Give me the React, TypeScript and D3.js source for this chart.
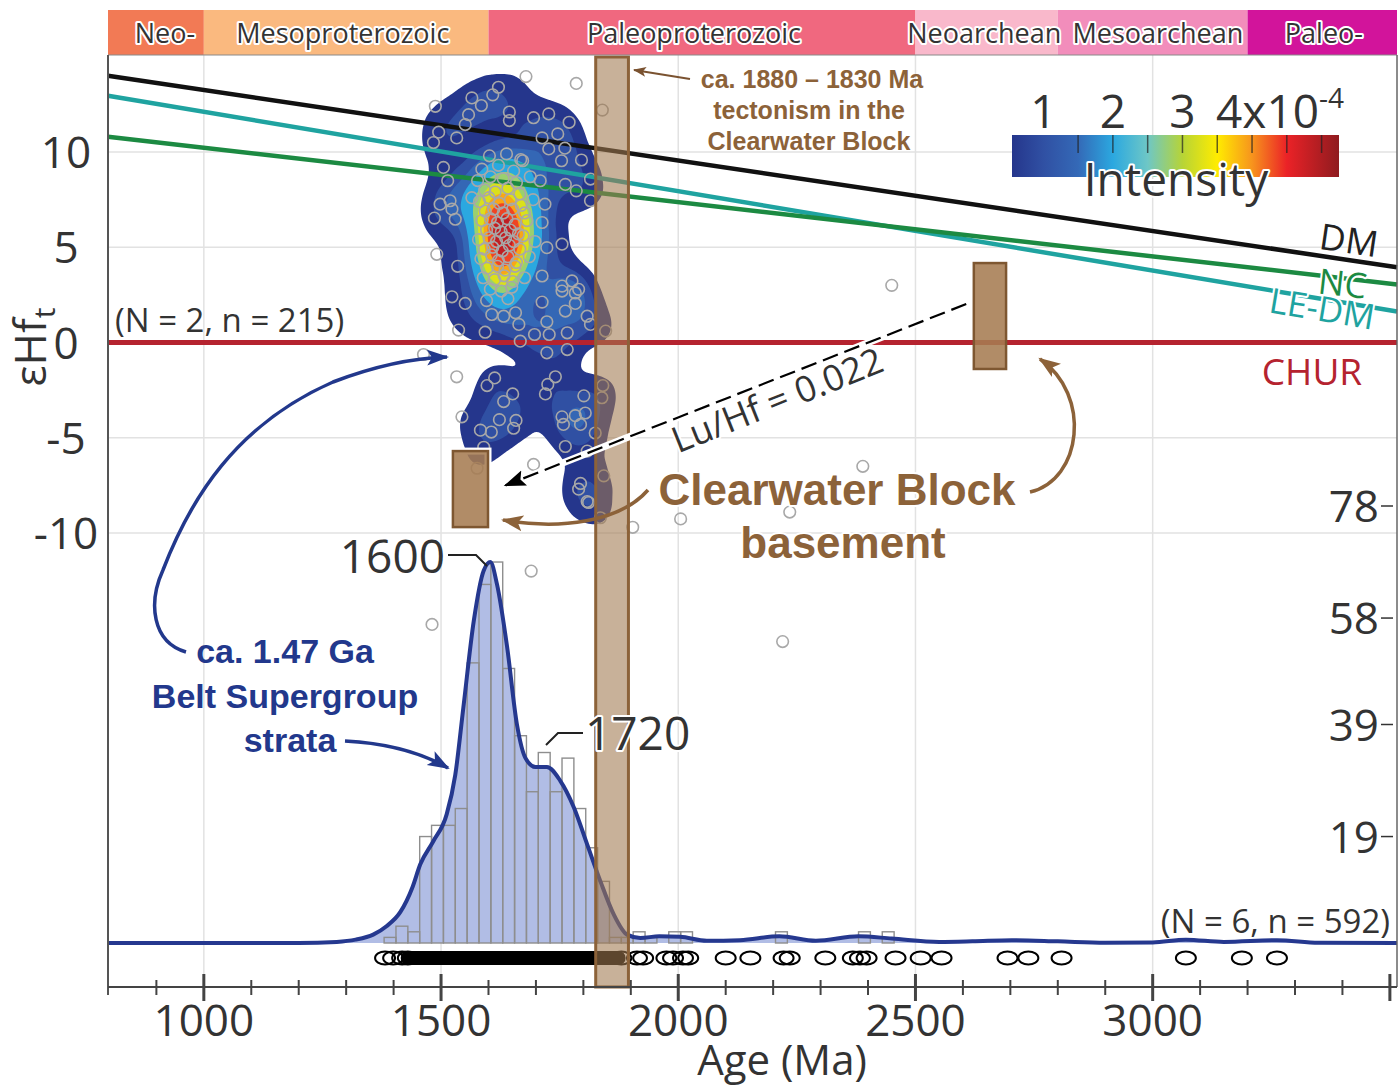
import React, { useMemo } from "react";
import * as d3 from "d3";

const W = 1400;
const H = 1089;

// geologic time scale, Ma
const eraNames = ["Neo-", "Mesoproterozoic", "Paleoproterozoic", "Neoarchean", "Mesoarchean", "Paleo-"];
const eraStart = [798, 1000, 1600, 2500, 2800, 3200];
const eraEnd = [1000, 1600, 2500, 2800, 3200, 3515];
const eraLabelAge = [918, 1293, 2033, 2645, 3011, 3361];
const eraColors = ["#F27A55", "#FAB97F", "#F0687F", "#F9B8CB", "#F28DBB", "#D2149B"];

const ageTicks = [1000, 1500, 2000, 2500, 3000];
const hfTicks = [10, 5, 0, -5, -10];
const countTicks = [19, 39, 58, 78];

// Hf evolution reference lines: [age, eHf]
const dmLine = [[798, 14.0], [3515, 3.95]];
const leDmLine = [[798, 12.95], [3515, 1.63]];
const ncLine = [[798, 10.8], [3515, 3.05]];
const churLine = [[798, 0], [3515, 0]];

// zircon Hf data (age Ma, eHf(t)) inside the density cloud
const hfCloud: number[][] = [
  // core
  [1602, 9.8], [1638, 9.9], [1668, 9.6], [1586, 9.1], [1621, 9.3], [1653, 9.0],
  [1577, 8.5], [1604, 8.7], [1631, 8.6], [1659, 8.4], [1688, 8.7],
  [1592, 8.0], [1614, 7.9], [1641, 8.1], [1666, 7.8],
  [1581, 7.4], [1601, 7.6], [1623, 7.3], [1646, 7.5], [1669, 7.2], [1694, 7.5],
  [1593, 6.9], [1611, 7.0], [1631, 6.8], [1651, 7.0], [1676, 6.8],
  [1586, 6.4], [1604, 6.5], [1619, 6.3], [1639, 6.5], [1656, 6.2], [1681, 6.4],
  [1596, 5.9], [1613, 6.0], [1627, 5.8], [1646, 5.9], [1663, 5.7],
  [1579, 5.4], [1601, 5.5], [1617, 5.3], [1636, 5.5], [1653, 5.3], [1673, 5.6], [1698, 5.3],
  [1591, 4.9], [1609, 5.0], [1629, 4.8], [1644, 5.1], [1666, 4.9],
  [1584, 4.4], [1606, 4.6], [1621, 4.3], [1641, 4.5], [1659, 4.2], [1686, 4.5],
  [1597, 3.9], [1619, 4.0], [1635, 3.8], [1656, 4.0],
  [1589, 3.4], [1613, 3.3], [1633, 3.5], [1651, 3.2], [1676, 3.4],
  [1604, 2.8], [1627, 2.7], [1649, 2.9], [1596, 2.2], [1641, 2.3],
  [1565, 7.6], [1719, 7.26],
  // upper ring
  [1679, 13.96], [1621, 13.4], [1609, 13.0], [1565, 12.84], [1585, 12.44], [1488, 12.4],
  [1644, 12.1], [1558, 11.96], [1727, 12.0], [1695, 11.8], [1770, 11.56], [1644, 11.65],
  [1551, 11.44], [1495, 11.04], [1746, 10.95], [1533, 10.74], [1484, 10.5], [1713, 10.74],
  [1727, 10.16], [1761, 10.2], [1796, 9.58], [1754, 9.54], [1505, 9.19], [1672, 9.54],
  [1514, 8.49], [1709, 8.49], [1762, 8.3], [1815, 8.58], [1785, 7.96], [1815, 7.44],
  [1498, 7.26], [1519, 7.44], [1523, 7.0], [1486, 6.53], [1530, 6.47], [1713, 6.3],
  [1755, 5.16], [1723, 4.98], [1491, 4.63], [1535, 4.0], [1713, 3.49], [1755, 2.96],
  [1776, 3.23], [1790, 2.79],
  // lower lobes
  [1523, 2.4], [1551, 2.05], [1713, 2.12], [1755, 2.7], [1783, 2.6], [1783, 2.05],
  [1762, 1.65], [1808, 1.38], [1815, 0.95], [1847, 0.6], [1657, 1.56], [1664, 0.95],
  [1607, 1.47], [1632, 1.38], [1593, 0.54], [1537, 0.65], [1723, 1.09], [1697, 0.42],
  [1728, 0.42], [1766, 0.51], [1667, 0.07], [1723, -0.54], [1766, -0.37], [1613, -1.86],
  [1597, -2.26], [1741, -1.8], [1725, -2.2], [1720, -2.7], [1651, -2.7], [1632, -3.1],
  [1801, -2.8], [1841, -2.26], [1839, -2.9], [1544, -3.9], [1623, -4.05], [1658, -4.09],
  [1653, -4.5], [1583, -4.6], [1606, -4.7], [1755, -3.9], [1783, -3.84], [1804, -3.7],
  [1758, -4.3], [1794, -4.3], [1825, -4.75], [1762, -5.46], [1808, -5.7], [1843, -7.0],
  [1790, -7.7], [1808, -8.35], [1590, -5.5], [1576, -6.6], [1794, -7.4], [1811, -8.4],
  [1836, -9.2],
];

// scattered analyses outside the cloud
const hfScatter: number[][] = [
  [1785, 13.6], [1840, 12.2], [1463, -0.63], [1533, -1.8], [1695, -6.4], [2450, 3.0],
  [2389, -6.5], [1904, -9.7], [2005, -9.26], [2235, -8.9], [1690, -12.0], [1481, -14.8],
  [2220, -15.7],
];

// detrital zircon U-Pb histogram (25 Ma bins)
const binWidth = 25;
const binStart = [
  1380, 1405, 1430, 1455, 1480, 1505, 1530, 1555, 1580, 1605, 1630, 1655, 1680, 1705,
  1730, 1755, 1780, 1805, 1830, 1855, 1880, 1905, 1930, 1980, 2005, 2205, 2380, 2430,
];
const binCount = [
  1, 3, 2, 19, 21, 21, 24, 50, 64, 68, 49, 37, 27, 34,
  27, 33, 24, 17, 11, 1, 1, 2, 1, 2, 2, 2, 2, 2,
];

// KDE curve
const kdeAge = [
  798, 1200, 1280, 1320, 1357, 1385, 1414, 1440, 1456, 1484, 1512, 1530, 1547, 1569,
  1590, 1604, 1618, 1639, 1660, 1678, 1699, 1723, 1751, 1780, 1808, 1836, 1864, 1892,
  1920, 1960, 2004, 2060, 2130, 2213, 2290, 2380, 2450, 2550, 2620, 2703, 2800, 2900,
  3000, 3070, 3150, 3262, 3350, 3515,
];
const kdeValue = [
  0, 0, 0.2, 0.6, 1.5, 3.0, 5.5, 10, 14, 18.2, 23, 30, 42, 57.5,
  66.5, 68, 64, 53, 39, 33, 31.4, 31.4, 29, 24.2, 17.6, 11, 5.1, 1.5,
  0.9, 1.2, 1.1, 0.4, 0.5, 1.2, 0.4, 1.2, 0.8, 0.2, 0.3, 0.5, 0.3, 0.05,
  0.1, 0.6, 0.2, 0.5, 0.05, 0,
];

// individual grain ages shown as ellipses, plus the span where they merge
const grainAges = [
  1382, 1399, 1418, 1430, 1880, 1913, 1926, 1975, 1989, 2010, 2021, 2100, 2152, 2222,
  2235, 2310, 2368, 2383, 2397, 2458, 2511, 2555, 2694, 2738, 2808, 3070, 3188, 3262,
];
const denseAgeSpan = [1436, 1868];

// density intensity (x10^-4)
const intensityLevels = [0.5, 1.0, 1.45, 2.0, 2.8, 3.25, 3.9, 4.35, 4.85];
const intensityPeak = 5.25;
const jetStops = [0.55, 1.0, 1.5, 2.0, 2.5, 3.0, 3.5, 4.0, 4.5, 5.25];
const jetColors = ["#25368C", "#3050A3", "#3469B7", "#2BA8E0", "#6EC7C6", "#B7D436", "#FFEC00", "#F7941D", "#EB2227", "#8F1B1F"];
const cbLabels = [1, 2, 3];
const cbMinor = [1.5, 2, 2.5, 3, 3.5, 4, 4.5, 5];

// Clearwater Block
const tectonism = [1826, 1895];
const basementAge = [[1525, 1599], [2623, 2691]];
const basementHf = [[-5.7, -9.69], [4.17, -1.39]];
const luHfFrom = [2607, 2.02];
const luHfTo = [1636, -7.5];

const FONT = "'Open Sans', 'Noto Sans', sans-serif";
const BOLD = "'Liberation Sans', Arial, sans-serif";
const TXT = "#333";
const BROWN = "#8C6239";
const BLUE = "#22388C";

const halo = { paintOrder: "stroke" as const, stroke: "#fff", strokeLinejoin: "round" as const };

export default function App() {
  const x = d3.scaleLinear().domain([798, 3515]).range([108, 1397]);
  const yHf = d3.scaleLinear().domain([10, -10]).range([152, 533]);
  const yN = d3.scaleLinear().domain([0, 78]).range([943, 506]);
  const cb = d3.scaleLinear().domain([0.55, 5.25]).range([1012, 1339]);
  const jet = d3.scaleLinear<string>().domain(jetStops).range(jetColors).clamp(true);

  const bands = useMemo(() => {
    const gen = d3
      .contourDensity<number[]>()
      .x((d) => x(d[0]))
      .y((d) => yHf(d[1]))
      .size([W, H])
      .cellSize(2)
      .bandwidth(16);
    const dens = gen.contours(hfCloud);
    return intensityLevels.map((v) => ({ v, geo: dens((v / intensityPeak) * dens.max) }));
  }, []);
  const geoPath = d3.geoPath();

  const refLine = d3
    .line<number[]>()
    .x((d) => x(d[0]))
    .y((d) => yHf(d[1]));

  const kdePts = kdeAge.map((a, i) => [a, kdeValue[i]]);
  const kdeLine = d3
    .line<number[]>()
    .x((d) => x(d[0]))
    .y((d) => yN(d[1]))
    .curve(d3.curveMonotoneX);
  const kdeArea = d3
    .area<number[]>()
    .x((d) => x(d[0]))
    .y0(yN(0))
    .y1((d) => yN(d[1]))
    .curve(d3.curveMonotoneX);

  const top = 55;
  const axisY = 987;
  const left = 108;
  const right = 1397;
  const rowY = 958;

  return (
    <svg width={W} height={H} style={{ position: "absolute", left: 0, top: 0, background: "#fff" }} fontFamily={FONT}>
      <defs>
        <linearGradient id="jet" x1="0" x2="1" y1="0" y2="0">
          {jetStops.map((s, i) => (
            <stop key={i} offset={(cb(s) - cb(0.55)) / (cb(5.25) - cb(0.55))} stopColor={jetColors[i]} />
          ))}
        </linearGradient>
        <marker id="arBlue" markerUnits="userSpaceOnUse" markerWidth="24" markerHeight="18" refX="20" refY="8" orient="auto" viewBox="0 0 24 16">
          <path d="M0,0 L22,8 L0,16 L5,8 z" fill={BLUE} />
        </marker>
        <marker id="arBrown" markerUnits="userSpaceOnUse" markerWidth="24" markerHeight="18" refX="20" refY="8" orient="auto" viewBox="0 0 24 16">
          <path d="M0,0 L22,8 L0,16 L5,8 z" fill={BROWN} />
        </marker>
        <marker id="arBlack" markerUnits="userSpaceOnUse" markerWidth="24" markerHeight="18" refX="20" refY="8" orient="auto" viewBox="0 0 24 16">
          <path d="M0,0 L22,8 L0,16 L4,8 z" fill="#000" />
        </marker>
        <marker id="arThin" markerUnits="userSpaceOnUse" markerWidth="14" markerHeight="10" refX="12" refY="5" orient="auto" viewBox="0 0 14 10">
          <path d="M0,0 L13,5 L0,10 L3,5 z" fill="#7A5230" />
        </marker>
      </defs>

      {/* time scale banner */}
      {eraNames.map((n, i) => (
        <rect key={n} x={x(eraStart[i])} y={10} width={x(eraEnd[i]) - x(eraStart[i])} height={top - 10} fill={eraColors[i]} />
      ))}
      {eraNames.map((n, i) => (
        <text
          key={"t" + n}
          x={x(eraLabelAge[i])}
          y={43}
          textAnchor="middle"
          fontSize={27}
          fill={TXT}
          strokeWidth={4}
          style={halo}
        >
          {n}
        </text>
      ))}

      {/* grid */}
      {hfTicks.map((t) => (
        <line key={"h" + t} x1={left} x2={right} y1={yHf(t)} y2={yHf(t)} stroke="#E2E2E2" strokeWidth={1.5} />
      ))}
      {ageTicks.map((t) => (
        <line key={"v" + t} x1={x(t)} x2={x(t)} y1={top} y2={axisY} stroke="#E2E2E2" strokeWidth={1.5} />
      ))}

      {/* age histogram + KDE */}
      <path d={kdeArea(kdePts) || ""} fill="#B1BDE5" />
      {binStart.map((a, i) => (
        <rect
          key={a}
          x={x(a)}
          width={x(a + binWidth) - x(a)}
          y={yN(binCount[i])}
          height={yN(0) - yN(binCount[i])}
          fill="none"
          stroke="#8E8E8E"
          strokeWidth={1.4}
        />
      ))}
      <path d={kdeLine(kdePts) || ""} fill="none" stroke="#25388F" strokeWidth={4} />

      {/* Hf density cloud */}
      {bands.map((b) => (
        <path key={b.v} d={geoPath(b.geo) || ""} fill={jet(b.v)} />
      ))}

      {/* reference evolution lines */}
      <path d={refLine(dmLine) || ""} stroke="#111" strokeWidth={4.5} fill="none" />
      <path d={refLine(leDmLine) || ""} stroke="#1FA3A0" strokeWidth={4.5} fill="none" />
      <path d={refLine(ncLine) || ""} stroke="#1C8A42" strokeWidth={4.5} fill="none" />
      <path d={refLine(churLine) || ""} stroke="#B5232F" strokeWidth={5} fill="none" />

      {/* Hf analyses */}
      {hfCloud.concat(hfScatter).map((d, i) => (
        <circle key={i} cx={x(d[0])} cy={yHf(d[1])} r={5.8} fill="none" stroke="#A8A8A8" strokeWidth={1.6} />
      ))}

      {/* basement boxes */}
      {basementAge.map((a, i) => (
        <g key={"b" + i}>
          {i === 0 && (
            <rect
              x={x(a[0])}
              y={yHf(basementHf[i][0])}
              width={x(a[1]) - x(a[0])}
              height={yHf(basementHf[i][1]) - yHf(basementHf[i][0])}
              fill="none"
              stroke="#fff"
              strokeWidth={7}
            />
          )}
          <rect
            x={x(a[0])}
            y={yHf(basementHf[i][0])}
            width={x(a[1]) - x(a[0])}
            height={yHf(basementHf[i][1]) - yHf(basementHf[i][0])}
            fill="#A67C52"
            fillOpacity={0.88}
            stroke="#7E5731"
            strokeWidth={2.5}
          />
        </g>
      ))}

      {/* grain ages row */}
      <rect
        x={x(denseAgeSpan[0]) - 10}
        y={rowY - 7}
        width={x(denseAgeSpan[1]) - x(denseAgeSpan[0]) + 20}
        height={14}
        rx={7}
        fill="#000"
      />
      {grainAges.map((a) => (
        <ellipse key={a} cx={x(a)} cy={rowY} rx={10} ry={6.5} fill="none" stroke="#000" strokeWidth={2} />
      ))}

      {/* tectonism bar */}
      <rect
        x={x(tectonism[0])}
        y={top + 2}
        width={x(tectonism[1]) - x(tectonism[0])}
        height={axisY - top - 2}
        fill="#A07850"
        fillOpacity={0.58}
        stroke={BROWN}
        strokeWidth={3}
      />

      {/* axes */}
      <line x1={left} x2={right} y1={top} y2={top} stroke="#8A8A8A" strokeWidth={1.2} />
      <line x1={left} x2={left} y1={top} y2={995} stroke="#555" strokeWidth={2} />
      <line x1={right} x2={right} y1={top} y2={axisY} stroke="#666" strokeWidth={1.5} />
      <line x1={left} x2={right} y1={axisY} y2={axisY} stroke="#444" strokeWidth={2} />
      {d3.range(900, 3501, 100).map((t) => {
        const major = t % 500 === 0;
        return (
          <line
            key={"t" + t}
            x1={x(t)}
            x2={x(t)}
            y1={major ? axisY - 13 : axisY - 7}
            y2={major ? axisY + 14 : axisY + 8}
            stroke="#444"
            strokeWidth={major ? 3 : 2}
          />
        );
      })}
      {ageTicks.map((t) => (
        <text key={"l" + t} x={x(t)} y={1036} textAnchor="middle" fontSize={44} fill={TXT}>
          {t}
        </text>
      ))}
      <text x={782} y={1075} textAnchor="middle" fontSize={42} fill={TXT}>
        Age (Ma)
      </text>

      {hfTicks.map((t) => (
        <text key={"y" + t} x={66} y={yHf(t) + 16} textAnchor="middle" fontSize={44} fill={TXT}>
          {t}
        </text>
      ))}
      <text transform="translate(46,347) rotate(-90)" textAnchor="middle" fontSize={44} fill={TXT}>
        εHf<tspan dy={9} fontSize={30}>t</tspan>
      </text>

      {countTicks.map((t) => (
        <g key={"c" + t}>
          <line x1={1381} x2={1393} y1={yN(t)} y2={yN(t)} stroke={TXT} strokeWidth={1.5} />
          <text x={1379} y={yN(t) + 16} textAnchor="end" fontSize={44} fill={TXT}>
            {t}
          </text>
        </g>
      ))}

      <text x={115} y={332} fontSize={33} fill={TXT}>
        (N = 2, n = 215)
      </text>
      <text x={1390} y={933} textAnchor="end" fontSize={33} fill={TXT}>
        (N = 6, n = 592)
      </text>

      {/* line labels */}
      <text transform="translate(1347,253) rotate(8.4)" textAnchor="middle" fontSize={36} fill="#222">
        DM
      </text>
      <text transform="translate(1341,296) rotate(6.5)" textAnchor="middle" fontSize={35} fill="#1C8A42" strokeWidth={4} style={halo}>
        NC
      </text>
      <text transform="translate(1320,321) rotate(9.5)" textAnchor="middle" fontSize={35} fill="#1FA3A0" strokeWidth={4} style={halo}>
        LE-DM
      </text>
      <text x={1312} y={385} textAnchor="middle" fontSize={37} fill="#B5232F">
        CHUR
      </text>

      {/* colour bar */}
      <rect x={cb(0.55)} y={135} width={cb(5.25) - cb(0.55)} height={42} fill="url(#jet)" />
      {cbMinor.map((t) => (
        <line key={"m" + t} x1={cb(t)} x2={cb(t)} y1={135} y2={153} stroke="#222" strokeOpacity={0.7} strokeWidth={1.5} />
      ))}
      {cbLabels.map((t) => (
        <text key={"cb" + t} x={cb(t)} y={128} textAnchor="middle" fontSize={46} fill={TXT}>
          {t}
        </text>
      ))}
      <text x={cb(4) - 36} y={128} fontSize={46} fill={TXT}>
        4x10<tspan dy={-20} fontSize={28}>-4</tspan>
      </text>
      <text x={1176} y={196} textAnchor="middle" fontSize={46} fill={TXT} strokeWidth={4} style={halo}>
        Intensity
      </text>

      {/* Lu/Hf evolution */}
      <line
        x1={x(luHfFrom[0])}
        y1={yHf(luHfFrom[1])}
        x2={x(luHfTo[0])}
        y2={yHf(luHfTo[1])}
        stroke="#fff"
        strokeWidth={7}
      />
      <line
        x1={x(luHfFrom[0])}
        y1={yHf(luHfFrom[1])}
        x2={x(luHfTo[0])}
        y2={yHf(luHfTo[1])}
        stroke="#000"
        strokeWidth={2.2}
        strokeDasharray="16 7"
        markerEnd="url(#arBlack)"
      />
      <text transform="translate(782,412) rotate(-21.8)" textAnchor="middle" fontSize={36} fill={TXT} strokeWidth={4} style={halo}>
        Lu/Hf = 0.022
      </text>

      {/* annotations */}
      <path d="M690,79 L634,70" stroke="#7A5230" strokeWidth={2} markerEnd="url(#arThin)" />
      <g fontFamily={BOLD} fontWeight="bold" fill={BROWN} fontSize={25} textAnchor="middle">
        <text x={812} y={88}>ca. 1880 – 1830 Ma</text>
        <text x={809} y={119}>tectonism in the</text>
        <text x={809} y={150}>Clearwater Block</text>
      </g>
      <g fontFamily={BOLD} fontWeight="bold" fill={BROWN} fontSize={44} textAnchor="middle" strokeWidth={4} style={halo}>
        <text x={837} y={505}>Clearwater Block</text>
        <text x={843} y={558}>basement</text>
      </g>
      <path d="M648,490 C620,522 560,530 503,520" stroke={BROWN} strokeWidth={3.5} fill="none" markerEnd="url(#arBrown)" />
      <path d="M1030,492 C1082,480 1092,395 1040,359" stroke={BROWN} strokeWidth={3.5} fill="none" markerEnd="url(#arBrown)" />

      <g fontFamily={BOLD} fontWeight="bold" fill={BLUE} fontSize={34} textAnchor="middle">
        <text x={285} y={663}>ca. 1.47 Ga</text>
        <text x={285} y={708}>Belt Supergroup</text>
        <text x={290} y={752}>strata</text>
      </g>
      <path
        d="M186,652 C152,642 148,603 163,570 C190,500 235,425 333,382 C380,364 415,358 447,357"
        stroke={BLUE}
        strokeWidth={3.5}
        fill="none"
        markerEnd="url(#arBlue)"
      />
      <path d="M345,741 C385,743 420,752 448,768" stroke={BLUE} strokeWidth={3.5} fill="none" markerEnd="url(#arBlue)" />

      {/* peak labels */}
      <path d="M448,555 H476 L487,566" stroke="#222" strokeWidth={2} fill="none" />
      <text x={445} y={573} textAnchor="end" fontSize={46} fill={TXT}>
        1600
      </text>
      <path d="M583,733 H558 L546,745" stroke="#222" strokeWidth={2} fill="none" />
      <text x={585} y={750} fontSize={46} fill={TXT} strokeWidth={4} style={halo}>
        1720
      </text>
    </svg>
  );
}
